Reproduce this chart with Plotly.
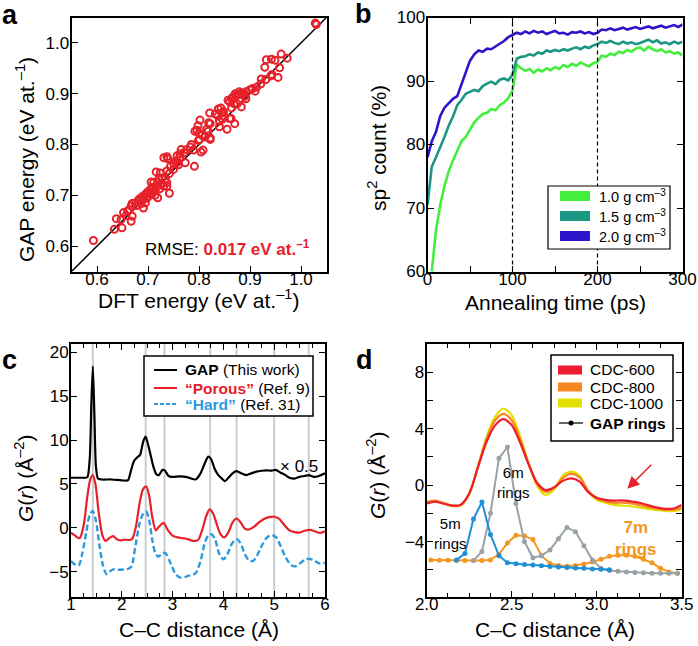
import plotly.graph_objects as go

W, H = 698, 646
FONT = "Liberation Sans, Arial, sans-serif"
RED = "#e8202a"


def fx(p):
    return p / W


def fy(p):
    return 1 - p / H


# ---- panel a: GAP vs DFT energies (eV/at.)
dft_energy = [1.028, 1.030, 0.961, 0.973, 0.932, 0.942, 0.949, 0.929, 0.958, 0.943,
              0.941, 0.955, 0.922, 0.921, 0.913, 0.905, 0.900, 0.892, 0.887, 0.879,
              0.883, 0.877, 0.871, 0.872, 0.892, 0.864, 0.866, 0.857, 0.860, 0.879,
              0.869, 0.883, 0.843, 0.838, 0.864, 0.821, 0.832, 0.845, 0.848, 0.837,
              0.849, 0.860, 0.802, 0.819, 0.822, 0.840, 0.863, 0.870, 0.798, 0.796,
              0.792, 0.815, 0.840, 0.855, 0.800, 0.806, 0.812, 0.822, 0.801, 0.799,
              0.822, 0.783, 0.789, 0.776, 0.808, 0.804, 0.765, 0.763, 0.771, 0.737,
              0.731, 0.739, 0.757, 0.762, 0.754, 0.758, 0.750, 0.773, 0.791, 0.744,
              0.750, 0.716, 0.724, 0.737, 0.742, 0.727, 0.721, 0.734, 0.706, 0.711,
              0.719, 0.737, 0.731, 0.719, 0.723, 0.714, 0.737, 0.742, 0.704, 0.708,
              0.699, 0.695, 0.701, 0.714, 0.719, 0.688, 0.691, 0.685, 0.682, 0.675,
              0.678, 0.695, 0.691, 0.669, 0.664, 0.667, 0.660, 0.652, 0.657, 0.669,
              0.667, 0.647, 0.638, 0.649, 0.634, 0.593, 0.703, 0.697, 0.710, 0.726,
              0.686, 0.760, 0.785, 0.818, 0.846, 0.875, 0.890, 0.910, 0.931]
gap_energy = [1.039, 1.036, 0.978, 0.970, 0.967, 0.968, 0.966, 0.952, 0.951, 0.938,
              0.935, 0.932, 0.929, 0.919, 0.913, 0.910, 0.908, 0.904, 0.900, 0.904,
              0.901, 0.898, 0.900, 0.896, 0.890, 0.890, 0.893, 0.887, 0.884, 0.887,
              0.880, 0.874, 0.872, 0.870, 0.872, 0.862, 0.860, 0.862, 0.865, 0.856,
              0.856, 0.851, 0.848, 0.843, 0.841, 0.846, 0.851, 0.841, 0.837, 0.828,
              0.826, 0.830, 0.835, 0.830, 0.822, 0.818, 0.815, 0.813, 0.810, 0.808,
              0.810, 0.795, 0.789, 0.790, 0.789, 0.785, 0.790, 0.782, 0.784, 0.776,
              0.774, 0.772, 0.778, 0.774, 0.767, 0.765, 0.763, 0.764, 0.757, 0.757,
              0.751, 0.746, 0.744, 0.748, 0.743, 0.734, 0.732, 0.732, 0.726, 0.725,
              0.726, 0.725, 0.718, 0.718, 0.713, 0.710, 0.718, 0.704, 0.711, 0.705,
              0.706, 0.702, 0.698, 0.700, 0.695, 0.697, 0.692, 0.690, 0.692, 0.685,
              0.680, 0.685, 0.675, 0.684, 0.672, 0.679, 0.669, 0.666, 0.660, 0.659,
              0.649, 0.652, 0.654, 0.636, 0.633, 0.611, 0.703, 0.694, 0.716, 0.722,
              0.683, 0.760, 0.800, 0.826, 0.850, 0.880, 0.895, 0.905, 0.928]
diag = [0.5, 1.1]

# ---- panel b: sp2 count vs annealing time
anneal_time = list(range(0, 301, 5))
sp2_10 = [55.0, 60.0, 66.5, 70.5, 73.5, 75.8, 77.5, 79.0, 80.5, 81.2, 82.3, 83.5, 84.2,
          84.8, 85.0, 85.6, 85.4, 86.2, 86.6, 87.3, 88.5, 92.6, 92.0, 91.6, 91.9, 91.3,
          91.8, 91.5, 92.0, 91.7, 92.2, 91.9, 92.5, 92.2, 92.7, 92.4, 92.9, 92.6, 92.3,
          92.8, 93.0, 94.0, 93.8, 94.3, 94.1, 94.6, 94.4, 94.9, 94.6, 95.1, 95.3, 94.8,
          95.4, 95.0, 94.7, 95.0, 94.5, 94.7, 94.3, 94.5, 94.0]
sp2_15 = [70.5, 76.5, 78.0, 79.5, 81.2, 83.0, 84.4, 86.2, 87.0, 88.0, 88.3, 88.6, 88.4,
          89.2, 89.6, 89.9, 89.5, 90.2, 90.4, 90.1, 91.0, 93.5, 93.8, 93.9, 94.2, 94.0,
          94.5, 94.3, 94.8, 94.6, 94.9, 94.7, 95.0, 94.8, 95.1, 95.3, 95.0, 95.4, 95.2,
          95.6, 95.8, 96.2, 96.0, 96.3, 96.0, 95.8, 96.2, 95.9, 96.1, 95.8, 96.0, 96.3,
          96.5, 96.1, 96.4, 95.9, 96.1, 95.8, 96.2, 95.9, 96.2]
sp2_20 = [78.0, 80.5, 82.0, 84.5, 85.8, 86.5, 87.2, 87.6, 89.5, 91.5, 93.2, 94.2, 94.8,
          94.6, 95.1, 95.0, 95.4, 95.8, 96.3, 96.9, 97.3, 97.6, 97.4, 97.8, 97.5, 97.9,
          97.6, 97.8, 97.4, 97.7, 97.9, 97.5, 97.6, 97.3, 97.7, 97.6, 97.8, 97.5, 97.7,
          97.4, 97.6, 98.1, 98.0, 98.3, 98.0, 98.2, 98.4, 98.1, 98.3, 98.5, 98.2, 98.4,
          98.6, 98.3, 98.5, 98.7, 98.4, 98.6, 98.8, 98.5, 98.9]
stage_marks = [100, 200]

# ---- panel c: G(r) curves
r_gap = [1.00, 1.20, 1.32, 1.37, 1.40, 1.43, 1.46, 1.49, 1.53, 1.60, 1.80, 2.00, 2.12,
         2.18, 2.24, 2.30, 2.36, 2.42, 2.47, 2.52, 2.57, 2.62, 2.68, 2.73, 2.80, 2.85,
         2.92, 3.00, 3.15, 3.30, 3.45, 3.55, 3.63, 3.70, 3.76, 3.83, 3.90, 3.97, 4.03,
         4.10, 4.18, 4.26, 4.35, 4.45, 4.55, 4.65, 4.75, 4.85, 4.95, 5.03, 5.12, 5.22,
         5.30, 5.40, 5.50, 5.60, 5.68, 5.78, 5.88, 6.00]
g_gap = [5.7, 5.7, 5.75, 8.0, 14.0, 18.4, 13.0, 7.0, 5.6, 5.5, 5.5, 5.4, 5.4,
         6.5, 7.6, 8.0, 8.3, 9.8, 10.4, 9.4, 8.2, 7.0, 6.1, 6.0, 6.6, 6.5,
         5.9, 5.8, 5.85, 5.75, 5.5, 6.2, 7.3, 8.1, 7.8, 6.7, 6.0, 5.6, 5.3,
         5.7, 6.2, 6.45, 6.2, 6.0, 6.2, 6.4, 6.5, 6.55, 6.5, 6.6, 6.3, 6.0,
         5.7, 5.6, 5.8, 5.9, 6.0, 5.8, 5.9, 6.2]
r_porous = [1.00, 1.08, 1.17, 1.25, 1.32, 1.38, 1.43, 1.48, 1.55, 1.62, 1.68, 1.75, 1.83,
            1.90, 1.97, 2.05, 2.12, 2.20, 2.28, 2.35, 2.42, 2.48, 2.54, 2.60, 2.67, 2.73,
            2.82, 2.90, 3.00, 3.10, 3.20, 3.30, 3.40, 3.50, 3.58, 3.66, 3.73, 3.80, 3.88,
            3.95, 4.02, 4.10, 4.18, 4.26, 4.34, 4.42, 4.50, 4.60, 4.70, 4.80, 4.90, 5.00,
            5.10, 5.20, 5.30, 5.40, 5.50, 5.60, 5.70, 5.80, 5.90, 6.00]
g_porous = [-0.6, -0.9, -1.2, 0.3, 3.5, 5.5, 6.0, 5.0, 1.5, -0.9, -1.5, -1.2, -0.95,
            -1.3, -1.45, -1.35, -1.4, -1.3, 0.2, 2.8, 4.4, 4.7, 3.6, 1.2, -0.3, 0.1,
            0.55, -0.2, -0.9, -1.1, -1.2, -1.3, -1.5, -1.4, -0.3, 1.3, 2.1, 1.6, 0.2,
            -0.8, -1.1, -0.5, 0.6, 1.05, 0.6, -0.1, -0.2, 0.1, 0.6, 1.0, 1.2, 1.25,
            1.0, 0.3, -0.3, -0.5, -0.55, -0.35, -0.25, -0.4, -0.6, -0.4]
r_hard = [1.00, 1.08, 1.15, 1.22, 1.30, 1.37, 1.43, 1.49, 1.56, 1.63, 1.70, 1.76, 1.83,
          1.90, 1.96, 2.05, 2.12, 2.19, 2.27, 2.35, 2.42, 2.48, 2.54, 2.60, 2.66, 2.72,
          2.80, 2.86, 2.95, 3.05, 3.15, 3.25, 3.35, 3.45, 3.55, 3.63, 3.70, 3.77, 3.84,
          3.92, 4.00, 4.08, 4.17, 4.26, 4.34, 4.42, 4.50, 4.58, 4.66, 4.76, 4.86, 4.96,
          5.04, 5.12, 5.22, 5.32, 5.42, 5.52, 5.62, 5.70, 5.80, 5.90, 6.00]
g_hard = [-3.8, -4.2, -4.3, -3.0, -0.5, 1.5, 1.9, 0.8, -2.0, -4.3, -5.3, -5.0, -4.75,
          -4.8, -4.8, -4.75, -4.7, -4.4, -2.0, 0.5, 1.6, 1.85, 0.8, -1.4, -2.9, -3.3,
          -2.9, -2.9, -3.9, -5.2, -5.7, -5.6, -5.4, -5.2, -3.8, -1.8, -0.9, -0.75, -1.4,
          -3.0, -3.6, -3.0, -1.8, -1.3, -1.8, -3.0, -3.7, -3.8, -3.2, -2.0, -1.1, -0.85,
          -1.1, -2.0, -3.3, -4.2, -4.4, -4.0, -3.6, -3.55, -3.8, -4.1, -4.0]
crystal_r = [1.43, 2.47, 2.84, 3.74, 4.26, 5.00, 5.68]

# ---- panel d: CDC experiments and GAP ring contributions
r_cdc = [2.00, 2.05, 2.10, 2.15, 2.20, 2.25, 2.30, 2.35, 2.40, 2.45, 2.50, 2.55, 2.60,
         2.65, 2.70, 2.75, 2.80, 2.85, 2.90, 2.95, 3.00, 3.05, 3.10, 3.15, 3.20, 3.25,
         3.30, 3.35, 3.40, 3.45, 3.50]
cdc_600 = [-1.30, -1.18, -1.32, -1.45, -1.40, -0.60, 1.20, 3.00, 4.20, 4.68, 4.25, 3.00,
           1.45, 0.15, -0.35, -0.15, 0.30, 0.48, 0.25, -0.50, -0.90, -1.05, -1.10, -1.08,
           -1.15, -1.25, -1.42, -1.58, -1.68, -1.66, -1.40]
cdc_800 = [-1.20, -1.10, -1.28, -1.45, -1.42, -0.62, 1.25, 3.20, 4.55, 5.05, 4.60, 3.25,
           1.50, 0.05, -0.48, -0.20, 0.50, 0.80, 0.55, -0.40, -0.95, -1.15, -1.25, -1.25,
           -1.30, -1.40, -1.55, -1.66, -1.74, -1.76, -1.60]
cdc_1000 = [-1.25, -1.15, -1.30, -1.48, -1.45, -0.65, 1.25, 3.35, 4.80, 5.42, 4.95, 3.45,
            1.55, -0.05, -0.70, -0.30, 0.65, 0.95, 0.65, -0.45, -1.05, -1.25, -1.40, -1.45,
            -1.50, -1.58, -1.68, -1.76, -1.82, -1.84, -1.72]

r_ring5 = [2.175, 2.225, 2.275, 2.325, 2.375, 2.425, 2.475, 2.525, 2.575, 2.625, 2.675,
           2.725, 2.775, 2.825, 2.875, 2.925, 2.975, 3.025, 3.075]
g_ring5 = [-5.3, -4.85, -2.4, -1.2, -3.5, -5.0, -5.5, -5.58, -5.63, -5.67, -5.72,
           -5.76, -5.8, -5.84, -5.87, -5.9, -5.94, -5.97, -6.0]
r_ring6 = [2.275, 2.325, 2.375, 2.425, 2.475, 2.525, 2.575, 2.625, 2.675, 2.725, 2.775,
           2.825, 2.875, 2.925, 2.975, 3.025, 3.075, 3.125, 3.175, 3.225, 3.275, 3.325,
           3.375, 3.425, 3.475]
g_ring6 = [-5.35, -4.7, -2.0, 1.9, 2.7, -1.3, -4.0, -5.15, -5.0, -4.6, -3.8,
           -3.0, -3.3, -4.3, -5.3, -5.9, -6.05, -6.1, -6.15, -6.2, -6.22, -6.25,
           -6.25, -6.25, -6.25]
r_ring7 = [2.025, 2.075, 2.125, 2.175, 2.225, 2.275, 2.325, 2.375, 2.425, 2.475, 2.525,
           2.575, 2.625, 2.675, 2.725, 2.775, 2.825, 2.875, 2.925, 2.975, 3.025, 3.075,
           3.125, 3.175, 3.225, 3.275, 3.325, 3.375, 3.425, 3.475]
g_ring7 = [-5.3, -5.32, -5.33, -5.35, -5.35, -5.35, -5.35, -5.3, -4.9, -4.1, -3.55,
           -3.6, -3.85, -5.0, -5.55, -5.7, -5.75, -5.7, -5.6, -5.45, -5.25, -5.05,
           -4.98, -4.98, -5.05, -5.25, -5.5, -5.9, -6.15, -6.25]

C_GREEN, C_TEAL, C_BLUE = "#44ee3c", "#1b9683", "#2d14c8"
C_HARD = "#2b9be0"
C_600, C_800, C_1000 = "#ee1c2e", "#f7871f", "#e2e000"
C_R5, C_R6, C_R7 = "#1f8fd6", "#9aa2a6", "#f5961e"

fig = go.Figure()

# panel a
fig.add_trace(go.Scatter(x=diag, y=diag, mode="lines", line=dict(color="black", width=1.5),
                         xaxis="x", yaxis="y"))
fig.add_trace(go.Scatter(x=dft_energy, y=gap_energy, mode="markers",
                         marker=dict(symbol="circle-open", size=7, color=RED,
                                     line=dict(width=2, color=RED)),
                         xaxis="x", yaxis="y"))

# panel b
for ys, col in [(sp2_10, C_GREEN), (sp2_15, C_TEAL), (sp2_20, C_BLUE)]:
    fig.add_trace(go.Scatter(x=anneal_time, y=ys, mode="lines",
                             line=dict(color=col, width=2.6), xaxis="x2", yaxis="y2"))

# panel c
fig.add_trace(go.Scatter(x=r_hard, y=g_hard, mode="lines",
                         line=dict(color=C_HARD, width=2.4, dash="6px,3px", shape="spline", smoothing=0.8),
                         xaxis="x3", yaxis="y3"))
fig.add_trace(go.Scatter(x=r_porous, y=g_porous, mode="lines",
                         line=dict(color=RED, width=2.2, shape="spline", smoothing=0.8),
                         xaxis="x3", yaxis="y3"))
fig.add_trace(go.Scatter(x=r_gap, y=g_gap, mode="lines",
                         line=dict(color="black", width=2.2, shape="spline", smoothing=0.6),
                         xaxis="x3", yaxis="y3"))

# panel d
for ys, col in [(cdc_1000, C_1000), (cdc_800, C_800), (cdc_600, C_600)]:
    fig.add_trace(go.Scatter(x=r_cdc, y=ys, mode="lines",
                             line=dict(color=col, width=2.2, shape="spline", smoothing=0.8),
                             xaxis="x4", yaxis="y4"))
for xs, ys, col in [(r_ring7, g_ring7, C_R7), (r_ring6, g_ring6, C_R6), (r_ring5, g_ring5, C_R5)]:
    fig.add_trace(go.Scatter(x=xs, y=ys, mode="lines+markers",
                             line=dict(color=col, width=2), marker=dict(size=5, color=col),
                             xaxis="x4", yaxis="y4"))


def axis(dom, rng, standoff, **kw):
    d = dict(domain=dom, range=rng, showline=True, linecolor="black", linewidth=2,
             mirror="ticks", ticks="inside", ticklen=6, tickwidth=1.3, tickcolor="black",
             showgrid=False, zeroline=False, automargin=False, ticklabelstandoff=standoff,
             tickfont=dict(size=17, color="black"))
    d.update(kw)
    return d


xa_dom = [fx(71.5), fx(326.5)]
xb_dom = [fx(427.5), fx(682.5)]
xc_dom = [fx(71), fx(325)]
xd_dom = [fx(426.7), fx(681.7)]
ytop_dom = [fy(271.5), fy(17.5)]
ybot_dom = [fy(597), fy(344)]
XS, YS = -9, -3

fig.update_layout(
    template="none",
    width=W, height=H, margin=dict(l=0, r=0, t=0, b=0, pad=0),
    paper_bgcolor="white", plot_bgcolor="white", showlegend=False,
    font=dict(family=FONT, color="black"),
    xaxis=axis(xa_dom, [0.55, 1.05], XS, anchor="y", tickvals=[0.6, 0.7, 0.8, 0.9, 1.0],
               tickformat=".1f", mirror=True),
    yaxis=axis(ytop_dom, [0.55, 1.05], YS, anchor="x", tickvals=[0.6, 0.7, 0.8, 0.9, 1.0],
               tickformat=".1f", mirror=True),
    xaxis2=axis(xb_dom, [0, 300], XS, anchor="y2", tickvals=[0, 100, 200, 300],
                minor=dict(dtick=50, ticks="inside", ticklen=6, tickcolor="black")),
    yaxis2=axis(ytop_dom, [60, 100], YS, anchor="x2", tickvals=[60, 70, 80, 90, 100]),
    xaxis3=axis(xc_dom, [1, 6], XS, anchor="y3", tickvals=[1, 2, 3, 4, 5, 6],
                minor=dict(dtick=0.25, ticks="inside", ticklen=4, tickcolor="black")),
    yaxis3=axis(ybot_dom, [-7.9, 20.95], YS, anchor="x3", tickvals=[-5, 0, 5, 10, 15, 20]),
    xaxis4=axis(xd_dom, [2.0, 3.5], XS, anchor="y4", tickvals=[2.0, 2.5, 3.0, 3.5], tickformat=".1f",
                minor=dict(dtick=0.125, ticks="inside", ticklen=4, tickcolor="black")),
    yaxis4=axis(ybot_dom, [-7.93, 10], YS, anchor="x4", tickvals=[-4, 0, 4, 8],
                minor=dict(dtick=2, ticks="inside", ticklen=6, tickcolor="black")),
)

# dashed stage lines (b) and crystalline reference distances (c)
for t in stage_marks:
    fig.add_shape(type="line", x0=t, x1=t, y0=0, y1=1, xref="x2", yref="y2 domain",
                  line=dict(color="black", width=1.2, dash="4px,3px"))
for r in crystal_r:
    fig.add_shape(type="line", x0=r, x1=r, y0=0, y1=1, xref="x3", yref="y3 domain",
                  line=dict(color="#c6ced2", width=2), layer="below")


def note(x, y, text, size=17, color="black", xanchor="center", **kw):
    fig.add_annotation(x=x, y=y, xref="paper", yref="paper", text=text, showarrow=False,
                       xanchor=xanchor, yanchor="middle",
                       font=dict(size=size, family=FONT, color=color), **kw)


# panel letters
for lx, ly, lab in [(9.5, 15, "a"), (364, 14, "b"), (9.5, 360, "c"), (365, 360, "d")]:
    note(fx(lx), fy(ly), "<b>%s</b>" % lab, size=27)

# axis titles
note(fx(199), fy(299), "DFT energy (eV at.<sup>–1</sup>)", size=21)
note(fx(25), fy(160), "GAP energy (eV at.<sup>–1</sup>)", size=21, textangle=-90)
note(fx(555), fy(302), "Annealing time (ps)", size=21)
note(fx(377), fy(148), "sp<sup>2</sup> count (%)", size=21, textangle=-90)
note(fx(199), fy(629), "C–C distance (Å)", size=21)
note(fx(24), fy(478), "<i>G</i>(<i>r</i>) (Å<sup>–2</sup>)", size=21, textangle=-90)
note(fx(555), fy(629), "C–C distance (Å)", size=21)
note(fx(376), fy(475), "<i>G</i>(<i>r</i>) (Å<sup>–2</sup>)", size=21, textangle=-90)

# panel a RMSE
note(fx(312), fy(248), "RMSE: <span style='color:%s'><b>0.017 eV at.<sup>–1</sup></b></span>" % RED,
     size=17, xanchor="right")

# panel b legend
fig.add_shape(type="rect", xref="paper", yref="paper", x0=fx(548), x1=fx(670), y0=fy(249), y1=fy(186),
              line=dict(color="black", width=1.2), fillcolor="white")
for py, col, lab in [(196, C_GREEN, "1.0"), (216, C_TEAL, "1.5"), (236, C_BLUE, "2.0")]:
    fig.add_shape(type="rect", xref="paper", yref="paper", x0=fx(560), x1=fx(590),
                  y0=fy(py + 5), y1=fy(py - 5), fillcolor=col, line=dict(width=0))
    note(fx(597), fy(py), "%s g cm<sup>–3</sup>" % lab, size=14.5, xanchor="left")

# panel c legend
fig.add_shape(type="rect", xref="paper", yref="paper", x0=fx(144), x1=fx(313), y0=fy(416), y1=fy(356),
              line=dict(color="black", width=1.5), fillcolor="white")
c_items = [(370, "black", "solid", "<b>GAP</b> (This work)"),
           (388, RED, "solid", "<b><span style='color:%s'>“Porous”</span></b> (Ref. 9)" % RED),
           (404, C_HARD, "dot", "<b><span style='color:%s'>“Hard”</span></b> (Ref. 31)" % C_HARD)]
for py, col, dash, lab in c_items:
    fig.add_shape(type="line", xref="paper", yref="paper", x0=fx(154), x1=fx(177), y0=fy(py), y1=fy(py),
                  line=dict(color=col, width=2, dash="4px,2px" if dash == "dot" else "solid"))
    note(fx(183), fy(py), lab, size=15.5, xanchor="left")
note(fx(320), fy(466), "× 0.5", size=17, xanchor="right")

# panel d legend
fig.add_shape(type="rect", xref="paper", yref="paper", x0=fx(551), x1=fx(673), y0=fy(441), y1=fy(355),
              line=dict(color="black", width=1.5), fillcolor="white")
for py, col, lab in [(370, C_600, "CDC-600"), (387, C_800, "CDC-800"), (403, C_1000, "CDC-1000")]:
    fig.add_shape(type="rect", xref="paper", yref="paper", x0=fx(558), x1=fx(582),
                  y0=fy(py + 4.5), y1=fy(py - 4.5), fillcolor=col, line=dict(width=0))
    note(fx(588), fy(py), lab, size=15.5, xanchor="left")
fig.add_shape(type="line", xref="paper", yref="paper", x0=fx(559), x1=fx(583), y0=fy(423), y1=fy(423),
              line=dict(color="black", width=1.2))
fig.add_shape(type="circle", xref="paper", yref="paper", x0=fx(568.5), x1=fx(573.5), y0=fy(425.5),
              y1=fy(420.5), fillcolor="black", line=dict(width=0))
note(fx(588), fy(423), "<b>GAP rings</b>", size=15.5, xanchor="left")

# ring labels and arrow in panel d
for tx, ty, txt, col, sz in [(2.14, -3.4, "5m<br>rings", "black", 15),
                             (2.51, 0.15, "6m<br>rings", "black", 15),
                             (3.23, -3.75, "<b>7m<br>rings</b>", C_R7, 17)]:
    fig.add_annotation(x=tx, y=ty, xref="x4", yref="y4", text=txt, showarrow=False,
                       font=dict(size=sz, family=FONT, color=col))
fig.add_annotation(x=3.18, y=-0.25, xref="x4", yref="y4", ax=3.33, ay=1.55, axref="x4", ayref="y4",
                   text="", showarrow=True, arrowhead=2, arrowsize=1.6, arrowwidth=1.5, arrowcolor=RED)

# the page body has a default 8px margin; drop it so the figure fills the window
fig.write_html("out.html", config={"displayModeBar": False},
               post_script="document.body.style.margin = '0';")
